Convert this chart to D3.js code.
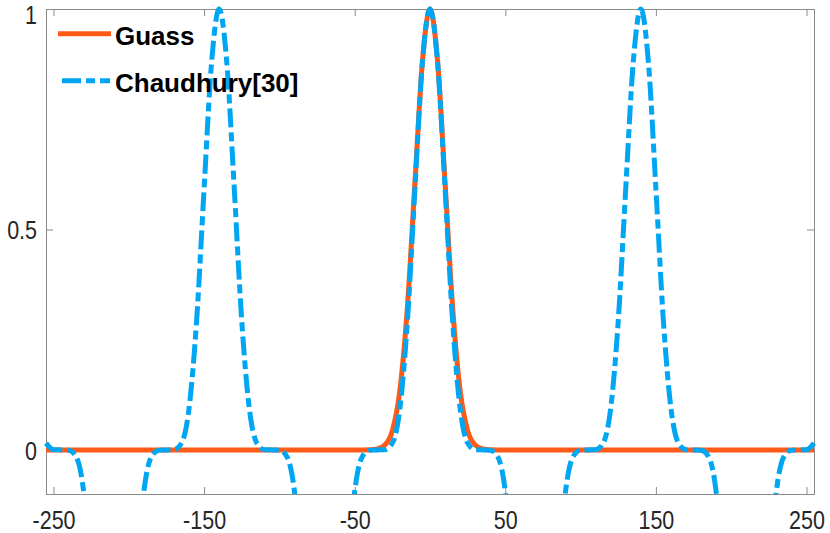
<!DOCTYPE html>
<html>
<head>
<meta charset="utf-8">
<script src="https://cdn.jsdelivr.net/npm/d3@7"></script>
<style>
  html, body { margin: 0; padding: 0; background: #fff; }
  svg { display: block; }
</style>
</head>
<body>
<svg id="chart" width="830" height="533"></svg>
<script>
// ---- data ----
const xTicks = [-250, -150, -50, 50, 150, 250];
const yTicks = [0, 0.5, 1];
const xTickLabels = ["-250", "-150", "-50", "50", "150", "250"];
const yTickLabels = ["0", "0.5", "1"];

const seriesNames = ["Guass", "Chaudhury[30]"];

const guassX = [-255, -45, -40, -35, -30, -25, -20, -15, -10, -5, 0, 5, 10, 15, 20, 25, 30, 35, 40, 45, 255];
const guassY = [0, 0, 0.0003, 0.0022, 0.0111, 0.0439, 0.1353, 0.3247, 0.6065, 0.8825, 1, 0.8825, 0.6065, 0.3247, 0.1353, 0.0439, 0.0111, 0.0022, 0.0003, 0, 0];

const chaudX = [
  -255, -250, -245, -240, -235, -230, -225, -220, -215, -210,
  -205, -200, -195, -190, -185, -180, -175, -170, -165, -160,
  -155, -150, -145, -140, -135, -130, -125, -120, -115, -110,
  -105, -100, -95, -90, -85, -80, -75, -70, -65, -60,
  -55, -50, -45, -40, -35, -30, -25, -20, -15, -10,
  -5, 0, 5, 10, 15, 20, 25, 30, 35, 40,
  45, 50, 55, 60, 65, 70, 75, 80, 85, 90,
  95, 100, 105, 110, 115, 120, 125, 130, 135, 140,
  145, 150, 155, 160, 165, 170, 175, 180, 185, 190,
  195, 200, 205, 210, 215, 220, 225, 230, 235, 240,
  245, 250, 255
];
const chaudY = [
  0.0154, 0.0005, 0, -0.0005, -0.0154, -0.0942, -0.2921, -0.5937, -0.8808, -1,
  -0.8808, -0.5937, -0.2921, -0.0942, -0.0154, -0.0005, 0, 0.0005, 0.0154, 0.0942,
  0.2921, 0.5937, 0.8808, 1, 0.8808, 0.5937, 0.2921, 0.0942, 0.0154, 0.0005,
  0, -0.0005, -0.0154, -0.0942, -0.2921, -0.5937, -0.8808, -1, -0.8808, -0.5937,
  -0.2921, -0.0942, -0.0154, -0.0005, 0, 0.0005, 0.0154, 0.0942, 0.2921, 0.5937,
  0.8808, 1, 0.8808, 0.5937, 0.2921, 0.0942, 0.0154, 0.0005, 0, -0.0005,
  -0.0154, -0.0942, -0.2921, -0.5937, -0.8808, -1, -0.8808, -0.5937, -0.2921, -0.0942,
  -0.0154, -0.0005, 0, 0.0005, 0.0154, 0.0942, 0.2921, 0.5937, 0.8808, 1,
  0.8808, 0.5937, 0.2921, 0.0942, 0.0154, 0.0005, 0, -0.0005, -0.0154, -0.0942,
  -0.2921, -0.5937, -0.8808, -1, -0.8808, -0.5937, -0.2921, -0.0942, -0.0154, -0.0005,
  0, 0.0005, 0.0154
];

// ---- layout ----
const W = 830, H = 533;
const margin = { left: 46, top: 9, right: 16, bottom: 39 };
const x0 = margin.left, x1 = W - margin.right;
const y0 = margin.top, y1 = H - margin.bottom;

const colGuass = "#FF5A17";
const colChaud = "#00A6F2";
const axisCol = "#8a8a8a";
const textCol = "#262626";
const tickFont = "Liberation Sans, Arial, Helvetica, sans-serif";
const tickSize = 25, tickScaleX = 0.86;

const svg = d3.select("#chart");

const x = d3.scaleLinear().domain([-255, 255]).range([x0, x1]);
const y = d3.scaleLinear().domain([-0.1, 1]).range([y1, y0]);

// clip
svg.append("defs").append("clipPath").attr("id", "clip")
  .append("rect").attr("x", x0 - 3).attr("y", 0).attr("width", x1 - x0 + 6).attr("height", y1);

// ---- axes (box with inward ticks on all sides) ----
const tickLen = 7;
const bottomAxis = d3.axisBottom(x).tickValues(xTicks).tickSize(-tickLen).tickSizeOuter(0)
  .tickFormat((d, i) => xTickLabels[i]);
const topAxis = d3.axisTop(x).tickValues(xTicks).tickSize(-tickLen).tickSizeOuter(0).tickFormat("");
const leftAxis = d3.axisLeft(y).tickValues(yTicks).tickSize(-tickLen).tickSizeOuter(0)
  .tickFormat((d, i) => yTickLabels[i]);
const rightAxis = d3.axisRight(y).tickValues(yTicks).tickSize(-tickLen).tickSizeOuter(0).tickFormat("");

function styleAxis(g) {
  g.select(".domain").remove();
  g.selectAll(".tick line").attr("stroke", axisCol).attr("stroke-width", 1);
  g.selectAll(".tick text").attr("fill", textCol)
    .style("font-family", tickFont).style("font-size", tickSize + "px");
}

const gB = svg.append("g").attr("transform", `translate(0,${y1})`).call(bottomAxis).call(styleAxis);
gB.selectAll(".tick text").attr("y", 0).attr("dy", null)
  .attr("transform", `translate(0,35) scale(${tickScaleX},1)`)
  .attr("text-anchor", "middle");

svg.append("g").attr("transform", `translate(0,${y0})`).call(topAxis).call(styleAxis);

const gL = svg.append("g").attr("transform", `translate(${x0},0)`).call(leftAxis).call(styleAxis);
gL.selectAll(".tick text").attr("x", 0).attr("dy", null)
  .attr("transform", d => `translate(-9,${d === 1 ? 14 : 9.5}) scale(${tickScaleX},1)`)
  .attr("text-anchor", "end");

svg.append("g").attr("transform", `translate(${x1},0)`).call(rightAxis).call(styleAxis);

// box
svg.append("rect").attr("x", x0).attr("y", y0).attr("width", x1 - x0).attr("height", y1 - y0)
  .attr("fill", "none").attr("stroke", axisCol).attr("stroke-width", 1).attr("shape-rendering", "crispEdges");

// ---- lines ----
const line = d3.line().x(d => x(d[0])).y(d => y(d[1])).curve(d3.curveMonotoneX);
const plot = svg.append("g").attr("clip-path", "url(#clip)");

plot.append("path")
  .datum(guassX.map((v, i) => [v, guassY[i]]))
  .attr("d", line).attr("fill", "none")
  .attr("stroke", colGuass).attr("stroke-width", 5).attr("stroke-linejoin", "round");

plot.append("path")
  .datum(chaudX.map((v, i) => [v, chaudY[i]]))
  .attr("d", line).attr("fill", "none")
  .attr("stroke", colChaud).attr("stroke-width", 5).attr("stroke-linejoin", "round")
  .attr("stroke-dasharray", "19,5,9,5");

// ---- legend ----
const legend = svg.append("g");
const legItems = [
  { name: seriesNames[0], color: colGuass, dash: null, ly: 33.7, x1: 58, x2: 111 },
  { name: seriesNames[1], color: colChaud, dash: "19,5,9,5", ly: 80.7, x1: 62, x2: 110 }
];
legItems.forEach(it => {
  legend.append("line").attr("x1", it.x1).attr("x2", it.x2).attr("y1", it.ly).attr("y2", it.ly)
    .attr("stroke", it.color).attr("stroke-width", 5).attr("stroke-dasharray", it.dash);
  legend.append("text").attr("x", 115).attr("y", it.ly + 11.5)
    .attr("fill", "#000").style("font-family", tickFont).style("font-weight", "bold")
    .style("font-size", "26px").text(it.name);
});
</script>
</body>
</html>
